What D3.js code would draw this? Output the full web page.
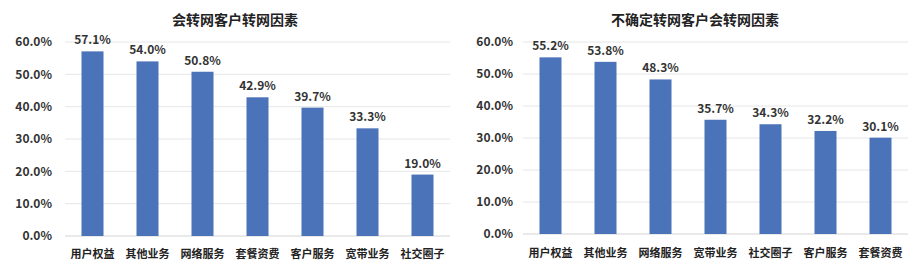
<!DOCTYPE html>
<html>
<head>
<meta charset="utf-8">
<script src="https://cdn.jsdelivr.net/npm/d3@7"></script>
<style>
  body { margin: 0; background: #fff; }
  svg { display: block; font-family: "Noto Sans CJK SC", "Noto Sans", sans-serif; }
</style>
</head>
<body>
<svg id="chart" width="916" height="272"></svg>
<script>
// left chart
const leftTitle = "会转网客户转网因素";
const leftCategories = ["用户权益", "其他业务", "网络服务", "套餐资费", "客户服务", "宽带业务", "社交圈子"];
const leftValues = [57.1, 54.0, 50.8, 42.9, 39.7, 33.3, 19.0];

// right chart
const rightTitle = "不确定转网客户会转网因素";
const rightCategories = ["用户权益", "其他业务", "网络服务", "宽带业务", "社交圈子", "客户服务", "套餐资费"];
const rightValues = [55.2, 53.8, 48.3, 35.7, 34.3, 32.2, 30.1];

const yTicks = [0, 10, 20, 30, 40, 50, 60];

const svg = d3.select("#chart");

function drawChart(opts) {
  const g = svg.append("g");

  const x = d3.scaleBand()
    .domain(opts.categories)
    .range([opts.x0, opts.x1])
    .paddingInner(0.6)
    .paddingOuter(0.3);

  const y = d3.scaleLinear()
    .domain([0, 60])
    .range([opts.y0, opts.y1]);

  // gridlines
  g.selectAll(".grid")
    .data(yTicks)
    .join("line")
    .attr("class", "grid")
    .attr("x1", opts.x0)
    .attr("x2", opts.x1)
    .attr("y1", d => y(d))
    .attr("y2", d => y(d))
    .attr("stroke", d => d === 0 ? "#d4d4d4" : "#e6e6e6")
    .attr("stroke-width", 1);

  // y axis labels
  const yAxis = d3.axisLeft(y)
    .tickValues(yTicks)
    .tickSize(0)
    .tickPadding(0)
    .tickFormat(d => d.toFixed(1) + "%");
  const ya = g.append("g")
    .attr("transform", `translate(${opts.labelX},0)`)
    .call(yAxis);
  ya.select(".domain").remove();
  ya.selectAll("text")
    .attr("font-size", 12)
    .attr("font-weight", "bold")
    .attr("fill", "#333")
    .attr("font-family", "'Noto Sans CJK SC', sans-serif");

  // bars
  g.selectAll(".bar")
    .data(opts.values)
    .join("rect")
    .attr("class", "bar")
    .attr("x", (d, i) => x(opts.categories[i]))
    .attr("width", x.bandwidth())
    .attr("y", d => y(d))
    .attr("height", d => y(0) - y(d))
    .attr("fill", "#4b73b9");

  // value labels
  g.selectAll(".val")
    .data(opts.values)
    .join("text")
    .attr("class", "val")
    .attr("x", (d, i) => x(opts.categories[i]) + x.bandwidth() / 2)
    .attr("y", d => y(d) - 7)
    .attr("text-anchor", "middle")
    .attr("font-size", 12)
    .attr("font-weight", "bold")
    .attr("fill", "#333")
    .text(d => d.toFixed(1) + "%");

  // category axis
  const xAxis = d3.axisBottom(x).tickSize(0).tickPadding(0);
  const xa = g.append("g")
    .attr("transform", `translate(0,${opts.catY})`)
    .call(xAxis);
  xa.select(".domain").remove();
  xa.selectAll("text")
    .attr("font-size", 11)
    .attr("font-weight", "bold")
    .attr("fill", "#222")
    .attr("dy", 0)
    .attr("font-family", "'Noto Sans CJK SC', sans-serif");

  // title
  g.append("text")
    .attr("x", opts.titleX)
    .attr("y", 25)
    .attr("text-anchor", "middle")
    .attr("font-size", 14)
    .attr("font-weight", "bold")
    .attr("fill", "#222")
    .text(opts.title);
}

drawChart({
  title: leftTitle, categories: leftCategories, values: leftValues,
  x0: 65, x1: 450, y0: 236, y1: 42, labelX: 52, catY: 258, titleX: 235
});

drawChart({
  title: rightTitle, categories: rightCategories, values: rightValues,
  x0: 523, x1: 908, y0: 234, y1: 42, labelX: 513, catY: 257, titleX: 695
});
</script>
</body>
</html>
